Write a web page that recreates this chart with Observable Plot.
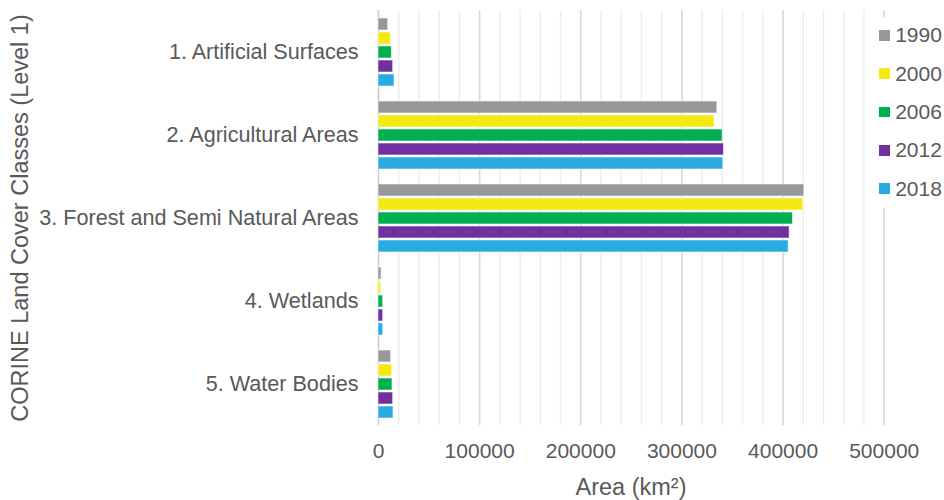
<!DOCTYPE html>
<html>
<head>
<meta charset="utf-8">
<script src="https://cdn.jsdelivr.net/npm/d3@7"></script>
<script src="https://cdn.jsdelivr.net/npm/@observablehq/plot@0.6"></script>
<style>
  html, body { margin: 0; padding: 0; background: white; }
  #chart { position: relative; width: 944px; height: 500px; font-family: "Liberation Sans", Arial, sans-serif; }
  #chart g[aria-label="fy-axis tick label"] { font-size: 21.6px; }
  #legend { position: absolute; left: 872px; top: 17px; width: 72px; height: 191px; background: white; }
  .item { position: absolute; left: 0; height: 22px; display: flex; align-items: center; }
  .swatch { width: 10.7px; height: 10.7px; margin-left: 7px; margin-right: 5.5px; }
  .item span { font-size: 21px; color: #595959; line-height: 22px; }
</style>
</head>
<body>
<div id="chart"></div>
<script>
// CORINE land cover, level-1 classes, area in km² per inventory year
const categories = [
  "1. Artificial Surfaces",
  "2. Agricultural Areas",
  "3. Forest and Semi Natural Areas",
  "4. Wetlands",
  "5. Water Bodies"
];
const years = ["1990", "2000", "2006", "2012", "2018"];
const yearColors = ["#98989a", "#f5e914", "#00b050", "#7030a0", "#29abe2"];

const area1990 = [9600, 335000, 421000, 3000, 12500];
const area2000 = [12200, 332300, 420000, 2600, 13500];
const area2006 = [13200, 340300, 409800, 4600, 13800];
const area2012 = [14500, 341600, 406500, 4600, 14500];
const area2018 = [15800, 340900, 405500, 4600, 14800];

const xTicks = [0, 100000, 200000, 300000, 400000, 500000];
const minorTicks = [20000, 40000, 60000, 80000, 120000, 140000, 160000, 180000,
  220000, 240000, 260000, 280000, 320000, 340000, 360000, 380000,
  420000, 440000, 460000, 480000];

const series = [area1990, area2000, area2006, area2012, area2018];
const rows = [];
categories.forEach((category, i) => {
  years.forEach((year, j) => rows.push({category, year, area: series[j][i]}));
});

const chart = Plot.plot({
  width: 944,
  height: 500,
  marginLeft: 378,
  marginRight: 60.3,
  marginTop: 8,
  marginBottom: 73,
  style: {fontFamily: "'Liberation Sans', Arial, sans-serif", fontSize: "21px", color: "#595959", background: "white"},
  x: {domain: [0, 500000], ticks: xTicks, tickFormat: d => String(d), tickSize: 0, tickPadding: 18, label: null},
  y: {domain: years, axis: null, paddingInner: 0.156, paddingOuter: 0.43},
  fy: {domain: categories, axis: "left", label: null, tickSize: 0, tickPadding: 20, padding: 0},
  color: {domain: years, range: yearColors},
  marks: [
    Plot.ruleX(minorTicks, {stroke: "#ececec", strokeWidth: 1.4}),
    Plot.ruleX(xTicks.slice(1), {stroke: "#d9d9d9", strokeWidth: 1.6}),
    Plot.ruleX([0], {stroke: "#cccccc", strokeWidth: 1.6}),
    Plot.barX(rows, {x: "area", y: "year", fy: "category", fill: "year", stroke: "white", strokeOpacity: 0.55, strokeWidth: 1})
  ]
});

const container = document.getElementById("chart");
container.appendChild(chart);

// axis titles
const svg = d3.select(chart);
svg.append("text")
  .attr("transform", "translate(27.5,218) rotate(-90)")
  .attr("text-anchor", "middle")
  .attr("fill", "#595959")
  .style("font-size", "23.5px")
  .text("CORINE Land Cover Classes (Level 1)");
svg.append("text")
  .attr("x", 631)
  .attr("y", 495)
  .attr("text-anchor", "middle")
  .attr("fill", "#595959")
  .style("font-size", "23.5px")
  .text("Area (km²)");

// year legend
const legend = document.createElement("div");
legend.id = "legend";
years.forEach((year, i) => {
  const item = document.createElement("div");
  item.className = "item";
  item.style.top = (35.4 + 38.35 * i - 17 - 11) + "px";
  const sw = document.createElement("div");
  sw.className = "swatch";
  sw.style.background = yearColors[i];
  const label = document.createElement("span");
  label.textContent = year;
  item.appendChild(sw);
  item.appendChild(label);
  legend.appendChild(item);
});
container.appendChild(legend);
</script>
</body>
</html>
